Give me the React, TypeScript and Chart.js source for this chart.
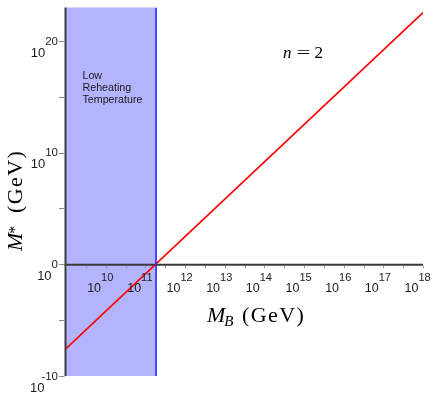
import React, { useEffect, useRef } from "react";
import { Chart, registerables } from "chart.js";

Chart.register(...registerables);

// ---- data ----
const massB = [1e9, 1e18]; // M_B (GeV)
const mStar = [2.8e-8, 3.5e22]; // M_* (GeV)
const reheatBoundary = 1.86e11; // edge of the "Low Reheating Temperature" region
const xRange = [1e9, 1e18];
const yRange = [1e-10, 1e23];
const xTickExponents = [10, 11, 12, 13, 14, 15, 16, 17, 18];
const xMinorExponents = [9, 9.5, 10.5, 11.5, 12.5, 13.5, 14.5, 15.5, 16.5, 17.5];
const yTickExponents = [-10, 0, 10, 20];
const yMinorExponents = [-5, 5, 15];
const regionLabel = ["Low", "Reheating", "Temperature"];
const curveVariable = "n";
const curveValue = "2";
const xTitle = { main: "M", sub: "B", unit: "(GeV)" };
const yTitle = { main: "M", sub: "*", unit: "(GeV)" };

const SANS = '"Liberation Sans", Arial, sans-serif';
const SERIF = '"Liberation Serif", "Times New Roman", serif';

const decorPlugin = {
  id: "decor",
  beforeDatasetsDraw(chart: any) {
    const { ctx, chartArea: a, scales } = chart;
    const xs = scales.x;
    const ys = scales.y;
    ctx.save();
    // shaded region
    const bx = xs.getPixelForValue(reheatBoundary);
    ctx.fillStyle = "#b4b4fe";
    ctx.fillRect(a.left, a.top, bx - a.left, a.bottom - a.top);

    // y axis line
    ctx.strokeStyle = "#3a3a3a";
    ctx.lineWidth = 2;
    ctx.beginPath();
    ctx.moveTo(a.left - 0.5, a.top);
    ctx.lineTo(a.left - 0.5, a.bottom);
    ctx.stroke();

    // x axis line at y = 1
    const y0 = ys.getPixelForValue(1);
    ctx.beginPath();
    ctx.moveTo(a.left - 1.5, y0 + 0.5);
    ctx.lineTo(a.right, y0 + 0.5);
    ctx.stroke();

    // y ticks
    ctx.lineWidth = 1;
    ctx.strokeStyle = "#8a8a8a";
    for (const e of [...yTickExponents, ...yMinorExponents]) {
      const py = Math.round(ys.getPixelForValue(Math.pow(10, e))) + 0.5;
      ctx.beginPath();
      ctx.moveTo(a.left - 7, py);
      ctx.lineTo(a.left - 1.5, py);
      ctx.stroke();
    }
    // x ticks
    ctx.strokeStyle = "#9a9a9a";
    for (const e of [...xTickExponents, ...xMinorExponents]) {
      const px = Math.round(xs.getPixelForValue(Math.pow(10, e))) + 0.5;
      ctx.beginPath();
      ctx.moveTo(px, y0 + 1.5);
      ctx.lineTo(px, y0 + 4);
      ctx.stroke();
    }
    ctx.restore();
  },
  afterDatasetsDraw(chart: any) {
    const { ctx, chartArea: a, scales } = chart;
    const xs = scales.x;
    const ys = scales.y;
    const y0 = ys.getPixelForValue(1);
    ctx.save();
    ctx.fillStyle = "#1a1a1a";
    ctx.textBaseline = "alphabetic";
    const baseFont = `12.5px ${SANS}`;
    const supFont = `11px ${SANS}`;

    // x tick labels
    for (const e of xTickExponents) {
      const px = xs.getPixelForValue(Math.pow(10, e));
      const sup = String(e);
      ctx.font = supFont;
      const sw = ctx.measureText(sup).width;
      const supLeft = px + 1.5 - sw / 2;
      ctx.textAlign = "left";
      ctx.fillText(sup, supLeft, y0 + 16.5);
      ctx.font = baseFont;
      ctx.textAlign = "right";
      ctx.fillText("10", supLeft, y0 + 27.5);
    }

    // y tick labels
    for (const e of yTickExponents) {
      const py = ys.getPixelForValue(Math.pow(10, e));
      const sup = String(e);
      ctx.font = `11.5px ${SANS}`;
      const sw = ctx.measureText(sup).width;
      const supRight = a.left - 8;
      ctx.textAlign = "right";
      ctx.fillText(sup, supRight, py + 3.5);
      const supLeft = supRight - sw;
      ctx.font = `13px ${SANS}`;
      ctx.fillText("10", supLeft + (e < 0 ? 3 : 0), py + 15.5);
    }

    // region label
    ctx.textAlign = "left";
    let fs = 12;
    ctx.font = `${fs}px ${SANS}`;
    const tw = ctx.measureText(regionLabel[2]).width;
    fs = (fs * 60) / tw;
    ctx.font = `${fs}px ${SANS}`;
    const lx = a.left + 16.5;
    regionLabel.forEach((t, i) => ctx.fillText(t, lx, 78.5 + i * 12.4));

    // n = 2
    ctx.fillStyle = "#000";
    ctx.font = `italic 17px ${SERIF}`;
    ctx.fillText(curveVariable, 283, 58);
    ctx.font = `17px ${SERIF}`;
    ctx.textAlign = "center";
    ctx.save();
    ctx.translate(303.5, 0);
    ctx.scale(1.45, 1);
    ctx.fillText("=", 0, 58);
    ctx.restore();
    ctx.textAlign = "left";
    ctx.fillText(curveValue, 314.5, 58);

    // axis titles
    const drawTitle = (t: { main: string; sub: string; unit: string }, subDy: number, subFont: string, gap: number) => {
      ctx.font = `italic 22px ${SERIF}`;
      ctx.fillText(t.main, 0, 0);
      const mw = ctx.measureText(t.main).width;
      ctx.font = subFont;
      ctx.fillText(t.sub, mw - 1, subDy);
      ctx.font = `22px ${SERIF}`;
      (ctx as any).letterSpacing = "1.4px";
      ctx.fillText(t.unit, gap, 0);
      (ctx as any).letterSpacing = "0px";
    };
    ctx.save();
    ctx.translate(207, 322);
    drawTitle(xTitle, 4, `italic 15px ${SERIF}`, 35);
    ctx.restore();

    ctx.save();
    ctx.translate(22, 251);
    ctx.rotate(-Math.PI / 2);
    drawTitle(yTitle, -2, `16px ${SERIF}`, 38);
    ctx.restore();

    ctx.restore();
  },
};

export default function App() {
  const canvasRef = useRef<HTMLCanvasElement | null>(null);
  useEffect(() => {
    const canvas = canvasRef.current;
    if (!canvas) return;
    const chart = new Chart(canvas, {
      type: "line",
      data: {
        datasets: [
          {
            label: "boundary",
            data: [
              { x: reheatBoundary, y: yRange[0] },
              { x: reheatBoundary, y: yRange[1] },
            ],
            borderColor: "#2a2aff",
            borderWidth: 1.6,
            pointRadius: 0,
            fill: false,
          },
          {
            label: "M*",
            data: massB.map((v, i) => ({ x: v, y: mStar[i] })),
            borderColor: "#ff0000",
            borderWidth: 1.6,
            pointRadius: 0,
            fill: false,
          },
        ],
      },
      options: {
        responsive: false,
        maintainAspectRatio: false,
        animation: false,
        devicePixelRatio: 1,
        layout: { padding: { left: 66, right: 13, top: 7.5, bottom: 22 } },
        scales: {
          x: { type: "logarithmic", min: xRange[0], max: xRange[1], display: false },
          y: { type: "logarithmic", min: yRange[0], max: yRange[1], display: false },
        },
        plugins: { legend: { display: false }, tooltip: { enabled: false } },
      },
      plugins: [decorPlugin],
    });
    return () => chart.destroy();
  }, []);
  return (
    <div style={{ position: "absolute", left: 0, top: 0, width: 436, height: 398, background: "#fff" }}>
      <canvas ref={canvasRef} width={436} height={398} style={{ display: "block" }} />
    </div>
  );
}
